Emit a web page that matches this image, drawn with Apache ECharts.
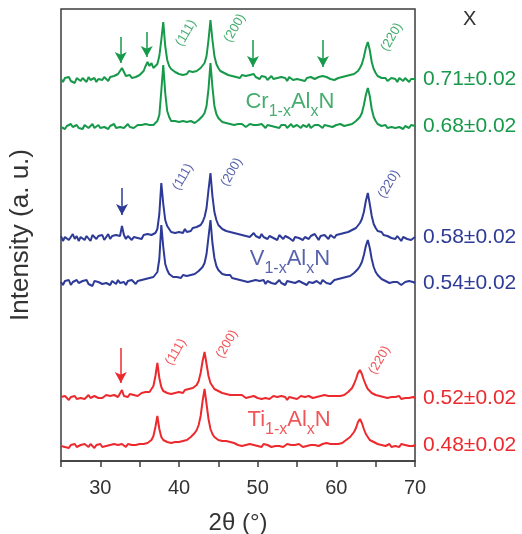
<!DOCTYPE html>
<html><head><meta charset="utf-8">
<script src="https://cdn.jsdelivr.net/npm/echarts@6/dist/echarts.min.js"></script>
<style>html,body{margin:0;padding:0;background:#fff}#c{width:522px;height:534px}</style>
</head><body><div id="c"></div>
<script>
// 2θ sampling positions (degrees)
const twoTheta = [
25,25.25,25.5,25.75,26,26.25,26.5,26.75,27,27.25,
27.5,27.75,28,28.25,28.5,28.75,29,29.25,29.5,29.75,
30,30.25,30.5,30.75,31,31.25,31.5,31.75,32,32.25,
32.5,32.75,33,33.25,33.5,33.75,34,34.25,34.5,34.75,
35,35.25,35.5,35.75,36,36.25,36.5,36.75,37,37.25,
37.5,37.75,38,38.25,38.5,38.75,39,39.25,39.5,39.75,
40,40.25,40.5,40.75,41,41.25,41.5,41.75,42,42.25,
42.5,42.75,43,43.25,43.5,43.75,44,44.25,44.5,44.75,
45,45.25,45.5,45.75,46,46.25,46.5,46.75,47,47.25,
47.5,47.75,48,48.25,48.5,48.75,49,49.25,49.5,49.75,
50,50.25,50.5,50.75,51,51.25,51.5,51.75,52,52.25,
52.5,52.75,53,53.25,53.5,53.75,54,54.25,54.5,54.75,
55,55.25,55.5,55.75,56,56.25,56.5,56.75,57,57.25,
57.5,57.75,58,58.25,58.5,58.75,59,59.25,59.5,59.75,
60,60.25,60.5,60.75,61,61.25,61.5,61.75,62,62.25,
62.5,62.75,63,63.25,63.5,63.75,64,64.25,64.5,64.75,
65,65.25,65.5,65.75,66,66.25,66.5,66.75,67,67.25,
67.5,67.75,68,68.25,68.5,68.75,69,69.25,69.5,69.75,
70];

// Intensities (a.u.) relative to each pattern's own baseline
const crX071 = [
1,-2,2,0,3,-1,1,-3,2,0, -1,2,1,-2,3,0,-1,2,-2,1, 2,0,3,1,-1,3,2,4,3,6,
9,12,8,4,3,5,2,4,3,5, 5,7,9,14,18,14,17,12,13,16, 24,40,58,34,20,14,11,9,8,8,
6,8,5,7,6,9,7,8,10,9, 10,12,14,17,24,40,60,40,24,16, 12,9,8,7,8,5,6,4,6,3,
4,2,5,3,4,3,5,7,6,3, 3,1,4,2,3,0,2,4,1,3, 2,0,3,1,2,-1,3,1,0,2,
1,3,0,2,-1,2,1,3,2,1, 2,3,1,4,5,3,2,1,2,0, 1,2,0,3,2,4,3,5,4,6,
7,9,12,16,23,32,38,30,18,11, 7,4,3,2,0,2,-1,1,2,0, 1,-2,2,0,-1,2,0,-2,1,0, 1];
const crX068 = [
0,2,-2,1,-1,3,0,-2,2,-1, 1,-2,2,0,-1,1,3,-1,0,2, -1,1,0,2,-2,1,0,3,-1,1,
0,2,-1,1,3,0,2,-1,1,2, 0,2,1,3,1,2,3,2,4,6, 12,36,62,34,16,10,6,5,6,4,
5,3,6,4,5,3,6,5,4,6, 7,9,11,14,21,38,64,40,21,13, 9,7,5,6,4,5,3,4,2,4,
3,1,3,2,0,2,3,1,2,0, 2,0,3,1,-1,2,0,1,3,0, 1,-1,2,0,2,-1,1,3,0,1,
2,0,-1,2,1,0,3,-1,1,2, 0,2,1,-1,2,0,1,3,0,1, 2,1,3,2,1,3,2,4,3,5,
6,8,10,14,22,32,39,31,18,10, 6,3,2,1,0,2,-1,1,0,2, -1,1,0,2,-2,1,0,-1,2,0, 1];
const vX058 = [
2,-3,1,3,-2,0,4,-1,2,-3, 1,3,-2,2,0,-3,3,1,-1,2, 0,3,-2,1,4,-1,2,0,3,1,
2,12,3,-1,2,0,-2,1,3,0, 2,-1,3,1,4,2,3,5,5,9, 24,55,34,18,12,9,6,8,5,7,
6,8,5,9,6,8,7,10,8,11, 10,13,16,21,30,48,65,42,26,18, 13,11,9,10,7,9,6,8,5,7,
4,6,3,5,2,4,1,3,5,2, 3,0,4,1,3,-1,2,4,0,2, -2,3,1,-1,2,4,0,2,-3,1,
3,0,2,-2,1,3,-1,2,0,4, 1,-2,2,0,3,1,-1,3,2,0, 3,1,4,2,5,3,6,5,8,7,
10,12,15,19,26,37,45,34,22,14, 10,7,5,6,3,4,2,3,0,2, -1,2,0,-3,1,2,-1,1,-2,0, 1];
const vX054 = [
1,-2,2,0,3,-2,1,-1,3,0, -2,2,0,3,-1,1,-3,2,0,1, 3,-1,1,0,2,-2,2,1,-1,3,
0,2,1,-2,2,0,3,1,-1,2, 1,3,2,4,3,5,4,6,8,11, 24,58,36,19,13,9,8,6,8,6,
7,5,8,6,7,9,8,10,9,11, 12,14,16,20,29,46,63,40,25,17, 13,12,9,10,8,7,8,5,6,4,
5,3,4,2,4,1,3,2,0,3, 1,2,0,3,-1,2,1,0,2,-1, 1,3,0,1,-2,2,0,1,3,0,
-1,2,1,0,2,-2,1,2,0,1, 2,0,-1,3,1,0,2,-1,1,3, 2,4,3,5,4,6,5,7,9,10,
12,14,17,21,28,37,43,35,24,16, 11,8,6,4,3,2,3,0,2,1, -1,1,2,-2,0,1,-1,2,0,1, 0];
const tiX052 = [
1,-1,2,0,-2,1,0,2,-1,1, 0,2,-1,1,3,0,-1,2,1,0, 2,0,1,3,1,2,0,3,2,1,
3,8,2,3,1,4,2,3,5,2, 3,5,4,6,5,6,8,12,22,35, 20,11,7,6,5,6,4,6,5,6,
6,7,5,8,7,9,8,10,11,13, 17,25,37,46,34,22,15,12,9,8, 7,6,5,6,4,5,3,4,3,2,
3,1,3,2,0,2,1,-1,2,1, 0,2,-1,1,0,2,-1,1,2,0, 1,-1,2,0,1,-2,1,2,0,1,
-1,1,2,0,1,-1,2,1,0,2, 1,0,2,1,3,1,2,4,2,3, 2,3,2,4,3,5,6,8,10,14,
19,25,28,24,18,13,9,7,5,4, 3,4,2,3,1,2,0,2,1,-1, 1,0,2,-1,1,0,2,0,-1,1, 0];
const tiX048 = [
0,2,-1,1,-2,1,0,2,-1,0, 1,-1,2,0,-1,2,1,-2,1,0, 2,-1,1,0,2,1,-1,2,0,1,
0,2,1,-1,2,0,1,3,1,2, 2,3,2,4,3,5,6,10,19,30, 17,9,6,5,4,5,3,5,4,5,
4,6,5,7,6,8,9,11,13,16, 21,30,45,57,42,27,17,12,9,8, 6,7,5,4,5,3,4,2,3,2,
1,3,0,2,1,-1,2,0,1,2, 0,1,-1,2,0,1,2,-1,1,0, 2,0,1,-1,1,2,0,1,-1,1,
0,2,1,-1,1,0,2,1,0,1, 2,0,1,2,1,3,1,2,3,2, 3,2,4,3,5,6,7,9,11,14,
18,24,27,23,17,12,9,6,5,4, 3,2,4,1,2,0,1,2,-1,1, 0,1,-1,2,0,1,-1,0,1,0, 1];

// vertical stacking offsets (a.u.)
const offsets = [381, 334, 223, 178, 63, 15];
const xValues = ['0.71±0.02','0.68±0.02','0.58±0.02','0.54±0.02','0.52±0.02','0.48±0.02'];
const formulas = ['Cr', 'V', 'Ti'];
const formulaPos = [[54.1, 356], [54.1, 199], [54.0, 38]];
const peakNames = ['(111)', '(200)', '(220)'];
const peakLabelPos = [
  [[40.9, 428], [47.1, 433], [67.05, 424]],
  [[40.5, 284], [46.7, 289], [66.7, 277]],
  [[39.6, 109], [46.1, 117], [65.5, 101]]
];
// arrows: [2θ, top, tip]
const arrows = [
  [[32.6, 424, 398], [35.9, 429, 404], [49.4, 421, 394], [58.3, 421, 394]],
  [[32.75, 273, 246]],
  [[32.6, 113, 78]]
];

const FONT = 'Liberation Sans, Arial, Helvetica, sans-serif';
const famColor = ['#17994a', '#2d3a97', '#ec2a2e'];
const curves = [crX071, crX068, vX058, vX054, tiX052, tiX048];

const series = [];
curves.forEach((c, k) => {
  const fam = Math.floor(k / 2);
  const col = famColor[fam];
  const s = {
    type: 'line',
    data: c.map((v, i) => [twoTheta[i], offsets[k] + v]),
    showSymbol: false, symbol: 'none', sampling: null,
    lineStyle: { width: 2, color: col },
    itemStyle: { color: col },
    endLabel: { show: true, formatter: xValues[k], color: col, fontSize: 21, fontFamily: FONT, distance: 8 },
    z: 2, silent: true
  };
  if (k % 2 === 0) {
    s.markLine = {
      silent: true, symbol: ['none', 'arrow'], symbolSize: [9, 11],
      lineStyle: { color: col, width: 1.5, type: 'solid' },
      label: { show: false },
      data: arrows[fam].map(a => [{ coord: [a[0], a[1]] }, { coord: [a[0], a[2]] }])
    };
  }
  series.push(s);
});

famColor.forEach((col, f) => {
  series.push({
    type: 'scatter', symbolSize: 0, silent: true,
    data: peakNames.map((n, j) => ({ value: peakLabelPos[f][j], name: n })),
    label: { show: true, position: 'inside', formatter: p => p.name, rotate: 60, color: col,
      fontSize: 13, fontFamily: FONT, align: 'center', verticalAlign: 'middle' }
  });
  series.push({
    type: 'scatter', symbolSize: 0, silent: true,
    data: [{ value: formulaPos[f], name: formulas[f] }],
    label: { show: true, position: 'inside', color: col, fontFamily: FONT,
      formatter: p => '{m|' + p.name + '}{s|1-x}{m|Al}{s|x}{m|N}',
      rich: {
        m: { fontSize: 22, color: col, fontFamily: FONT, verticalAlign: 'bottom', padding: [0, 0, 7, 0] },
        s: { fontSize: 16, color: col, fontFamily: FONT, verticalAlign: 'bottom' }
      } }
  });
});

const chart = echarts.init(document.getElementById('c'), null, { renderer: 'canvas' });
chart.setOption({
  animation: false,
  backgroundColor: '#fff',
  grid: { left: 61, right: 107, top: 9, bottom: 73, containLabel: false, outerBoundsMode: 'none',
    show: true, borderColor: '#3c3c3c', borderWidth: 1.5, backgroundColor: 'transparent' },
  xAxis: {
    type: 'value', min: 25, max: 70, interval: 5,
    axisLine: { show: true, lineStyle: { color: '#3c3c3c', width: 1.5 } },
    axisTick: { show: true, inside: false, length: 6, lineStyle: { color: '#3c3c3c', width: 1.5 } },
    axisLabel: { formatter: v => (v % 10 === 0 ? String(v) : ''), fontSize: 20, color: '#333', fontFamily: FONT, margin: 17 },
    splitLine: { show: false },
    name: '2θ (°)', nameLocation: 'middle', nameGap: 50,
    nameTextStyle: { fontSize: 24, color: '#333', fontFamily: FONT }
  },
  yAxis: {
    type: 'value', min: 0, max: 452,
    axisLine: { show: false }, axisTick: { show: false }, axisLabel: { show: false }, splitLine: { show: false },
    name: 'Intensity (a. u.)', nameLocation: 'middle', nameGap: 27,
    nameTextStyle: { fontSize: 26, color: '#333', fontFamily: FONT }
  },
  graphic: [{ type: 'text', left: 463, top: 9, style: { text: 'X', fontSize: 20, fill: '#333', fontFamily: FONT } }],
  series: series
});
</script></body></html>
